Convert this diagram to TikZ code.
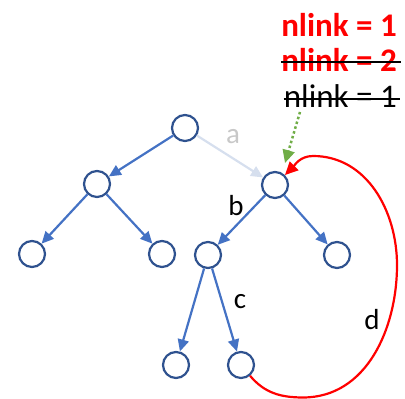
\documentclass[tikz,border=0pt]{standalone}
\usepackage{fontspec}
\setmainfont{Carlito}
\usetikzlibrary{arrows.meta,calc}
\definecolor{nodeblue}{HTML}{2F528F}
\definecolor{edgeblue}{HTML}{4472C4}
\definecolor{paleblue}{HTML}{D6DFEE}
\definecolor{palegray}{HTML}{C8C8C8}
\definecolor{dotgreen}{HTML}{70AD47}
\tikzset{
  tnode/.style={circle, draw=nodeblue, line width=2.2pt, fill=white, minimum size=26pt, inner sep=0pt},
  tedge/.style={draw=edgeblue, line width=2.2pt, -{Triangle[length=12pt,width=11pt]}},
  paleedge/.style={draw=paleblue, line width=2.2pt, -{Triangle[length=12pt,width=11pt]}},
  lbl/.style={font=\fontsize{29}{30}\selectfont, inner sep=0pt},
  nl/.style={font=\fontsize{33}{35}\selectfont, inner sep=0pt, anchor=base east},
  strike/.style={draw=black, line width=2pt}
}
\begin{document}
\begin{tikzpicture}[x=1pt,y=1pt]
\useasboundingbox (0,0) rectangle (405,399);
% nodes
\node[tnode] (root) at (185,271) {};
\node[tnode] (L) at (97,215) {};
\node[tnode] (R) at (275,214) {};
\node[tnode] (LL) at (32,145) {};
\node[tnode] (LR) at (162,145) {};
\node[tnode] (RL) at (208,144) {};
\node[tnode] (RR) at (337,144) {};
\node[tnode] (RLL) at (176,34) {};
\node[tnode] (RLR) at (241,34) {};
% edges
\draw[paleedge] (root) -- (R);
\draw[tedge] (root) -- (L);
\draw[tedge] (L) -- (LL);
\draw[tedge] (L) -- (LR);
\draw[tedge] (R) -- (RL);
\draw[tedge] (R) -- (RR);
\draw[tedge] (RL) -- (RLL);
\draw[tedge] (RL) -- (RLR);
% labels
\node[lbl, text=palegray] (la) at (233,262) {a};
\node[lbl] (lb) at (236,193) {b};
\node[lbl] (lc) at (240,97) {c};
\node[lbl] (ld) at (372,79) {d};
% red back link
\draw[red, line width=2.2pt, -{Triangle[length=13pt,width=12pt]}]
  (RLR.-50) to[out=-50,in=180] (303,1.5) to[out=0,in=-90] (397,134)
  to[out=90,in=0] (313,243) to[out=180,in=45] (R.45);
% nlink texts
\node[nl, text=red] (n1) at (397,362) {\bfseries nlink = 1};
\node[nl, text=red] (n2) at (397,327) {\bfseries nlink = 2};
\node[nl, text=black] (n3) at (397,291) {nlink = 1};
\draw[strike] ($(n2.base west)+(0,10)$) -- ($(n2.base east)+(4,10)$);
\draw[strike] ($(n3.base west)+(0,9)$) -- ($(n3.base east)+(3,9)$);
% green dotted arrow
\coordinate (gs) at (300,287);
\coordinate (gt) at (285,236);
\draw[dotgreen, line width=2.5pt, dash pattern=on 2.5pt off 2.5pt, -{Triangle[length=13pt,width=12pt]}] (gs) -- (gt);
\end{tikzpicture}
\end{document}
